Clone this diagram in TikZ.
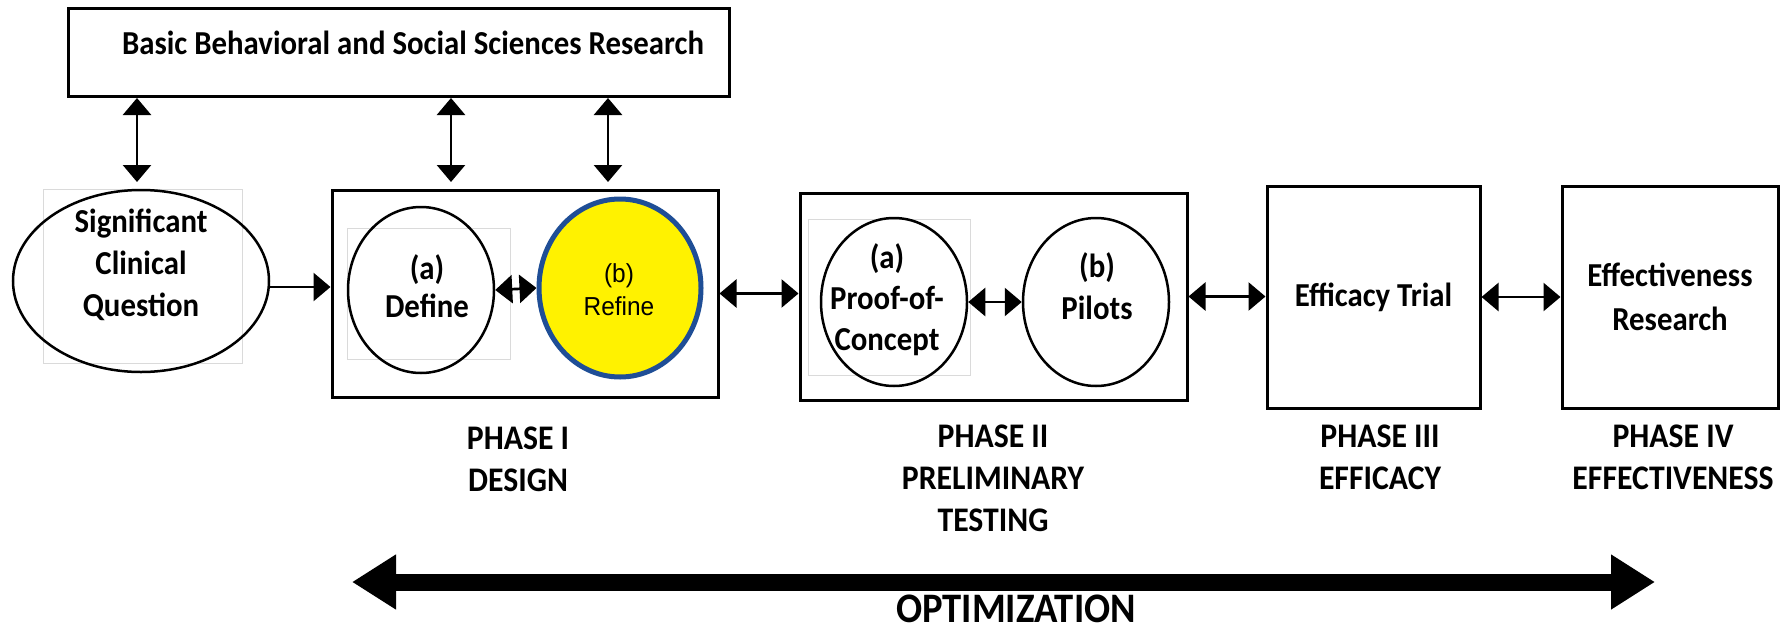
\documentclass[tikz,border=0pt]{standalone}
\usepackage{fontspec}
\setmainfont{Carlito}[FakeStretch=0.92]
\newfontfamily\arialf{Liberation Sans}[FakeStretch=0.94]
\usetikzlibrary{shapes.geometric,arrows.meta,calc}
\definecolor{refblue}{HTML}{1F4E96}
\definecolor{faintgray}{HTML}{DADADA}
\tikzset{
  box/.style={draw, line width=3pt, rectangle, inner sep=0pt},
  oval/.style={draw, line width=2.5pt, ellipse, inner sep=0pt},
  faint/.style={draw=faintgray, line width=1pt, rectangle, inner sep=0pt},
  txt/.style={font=\bfseries\fontsize{33.5}{42}\selectfont, align=center, inner sep=0pt},
  phase/.style={font=\bfseries\fontsize{34.5}{42}\selectfont, align=center, inner sep=0pt},
  dbl/.style={line width=2.7pt, {Triangle[length=17pt,width=28pt]}-{Triangle[length=17pt,width=28pt]}},
  sgl/.style={line width=2.7pt, -{Triangle[length=17pt,width=28pt]}},
}
\begin{document}
\begin{tikzpicture}[x=1pt,y=-1pt]
\useasboundingbox (0,0) rectangle (1785,632);

% top research box
\node[box, minimum width=661pt, minimum height=88pt] (basic) at (398.5,52.5) {};
\node[txt, font=\bfseries\fontsize{33.5}{37}\selectfont] (basictxt) at (413,43) {Basic Behavioral and Social Sciences Research};

% faint background rectangles
\node[faint, minimum width=199pt, minimum height=174pt] (cqbg) at (142.5,276) {};
\node[faint, minimum width=163pt, minimum height=131pt] (dfbg) at (428.5,293.5) {};
\node[faint, minimum width=162pt, minimum height=156pt] (pcbg) at (889,297) {};

% significant clinical question
\node[oval, minimum width=256pt, minimum height=182pt] (clinical) at (141,281) {};
\node[txt] (clinicaltxt) at (141,265) {Significant\\Clinical\\Question};

% phase I
\node[box, minimum width=386pt, minimum height=207pt] (phase1) at (525,293.5) {};
\node[oval, minimum width=146pt, minimum height=166pt] (define) at (421,290) {};
\node[txt, font=\bfseries\fontsize{33.5}{38}\selectfont] (definetxt) at (427,286) {(a)\\Define};
\node[draw=refblue, fill=yellow, line width=5pt, ellipse, inner sep=0pt, minimum width=162pt, minimum height=178pt] (refine) at (620,288) {};
\node[font=\arialf\fontsize{26}{33}\selectfont, align=center, inner sep=0pt] (refinetxt) at (619,290) {(b)\\Refine};

% phase II
\node[box, minimum width=387pt, minimum height=207pt] (phase2) at (993.5,296.5) {};
\node[oval, minimum width=146pt, minimum height=168pt] (proof) at (894,302) {};
\node[txt, font=\bfseries\fontsize{33.5}{41}\selectfont] (prooftxt) at (887,300) {(a)\\Proof-of-\\Concept};
\node[oval, minimum width=146pt, minimum height=168pt] (pilots) at (1096,302) {};
\node[txt] (pilotstxt) at (1097,286) {(b)\\Pilots};

% phase III and IV
\node[box, txt, draw, line width=3pt, minimum width=213pt, minimum height=222pt] (efficacy) at (1373.5,297) {Efficacy Trial};
\node[box, txt, draw, line width=3pt, font=\bfseries\fontsize{33.5}{44}\selectfont, minimum width=216pt, minimum height=222pt] (effect) at (1670,297) {Effectiveness\\Research};

% phase labels
\node[phase] (p1lbl) at (518,459) {PHASE I\\DESIGN};
\node[phase] (p2lbl) at (993,478) {PHASE II\\PRELIMINARY\\TESTING};
\node[phase] (p3lbl) at (1380,457.5) {PHASE III\\EFFICACY};
\node[phase] (p4lbl) at (1673,457.5) {PHASE IV\\EFFECTIVENESS};

% vertical arrows
\coordinate (v1) at (137,182);
\coordinate (v2) at (451,182);
\coordinate (v3) at (608,182);
\draw[dbl] (basic.south -| v1) -- (v1);
\draw[dbl] (basic.south -| v2) -- (v2);
\draw[dbl] (basic.south -| v3) -- (v3);

% horizontal arrows
\draw[sgl] ($(clinical.east)+(0,6)$) -- ($(clinical.east -| phase1.west)+(0,6)$);
\draw[dbl] (define.east) -- (refine.west);
\draw[dbl] (phase1.east) -- (phase1.east -| phase2.west);
\draw[dbl] (proof.east) -- (pilots.west);
\draw[dbl] (phase2.east) -- (phase2.east -| efficacy.west);
\draw[dbl] (efficacy.east) -- (effect.west);

% optimization
\coordinate (optL) at (352,582);
\coordinate (optR) at (1655,582);
\draw[line width=17pt, {Triangle[length=44pt,width=52pt]}-{Triangle[length=44pt,width=52pt]}] (optL) -- (optR);
\node[font=\bfseries\fontsize{42}{48}\selectfont, inner sep=0pt] (opt) at (1016,609) {OPTIMIZATION};
\end{tikzpicture}
\end{document}
